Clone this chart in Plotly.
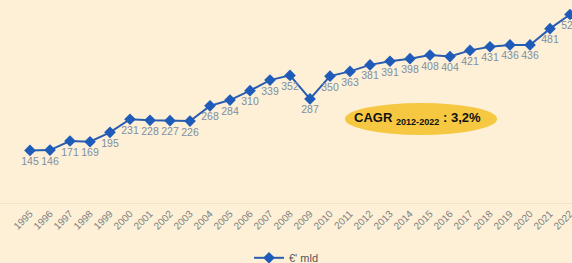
import plotly.graph_objects as go

years = list(range(1995, 2023))
year_labels = [str(y) for y in years]
values = [145, 146, 171, 169, 195, 231, 228, 227, 226, 268, 284, 310, 339, 352, 287,
          350, 363, 381, 391, 398, 408, 404, 421, 431, 436, 436, 481, 520]
series_name = "€' mld"
cagr_label = "<b>CAGR <sub>2012-2022</sub> : 3,2%</b>"

W, H = 572, 263
BG = "#FDF0D6"

fig = go.Figure()
fig.add_trace(go.Scatter(
    x=years, y=values, mode="lines+markers+text", name=series_name,
    text=[str(v) for v in values], textposition="bottom center",
    textfont=dict(family="Liberation Sans, Arial", size=10.5, color="#7F8EA3"),
    line=dict(color="#2A5DAE", width=2),
    marker=dict(symbol="diamond", size=9, color="#1F5CBA"),
    cliponaxis=False,
))

fig.add_shape(type="circle", xref="paper", yref="paper",
              x0=0.603, x1=0.869, y0=0.335, y1=0.493,
              fillcolor="#F6C842", line=dict(width=0), layer="below")
fig.add_annotation(xref="paper", yref="paper", x=0.73, y=0.414,
                   xanchor="center", yanchor="middle",
                   text=cagr_label, showarrow=False,
                   font=dict(family="Liberation Sans, Arial", size=13, color="#111111"))

fig.update_layout(
    width=W, height=H,
    paper_bgcolor=BG, plot_bgcolor=BG,
    margin=dict(l=0, r=0, t=0, b=60, autoexpand=False),
    showlegend=True,
    legend=dict(orientation="h", x=0.5, xanchor="center", y=-0.27, yanchor="middle",
                font=dict(family="Liberation Sans, Arial", size=11, color="#555555"),
                bgcolor="rgba(0,0,0,0)"),
    font=dict(family="Liberation Sans, Arial"),
)
fig.update_xaxes(range=[1993.5, 2022.1], tickmode="array", tickvals=years, ticktext=year_labels,
                 tickangle=-45, tickfont=dict(size=10, color="#808080"), automargin=False,
                 ticklabeloverflow="allow",
                 showgrid=False, zeroline=False, showline=True, linecolor="#F1E3C6",
                 linewidth=1, ticks="")
fig.update_yaxes(range=[0, 560], visible=False, showgrid=False, zeroline=False, automargin=False)

fig.write_html("out.html", config={"displayModeBar": False},
               post_script="document.body.style.margin='0';document.body.style.overflow='hidden';document.body.style.background='" + BG + "';")
